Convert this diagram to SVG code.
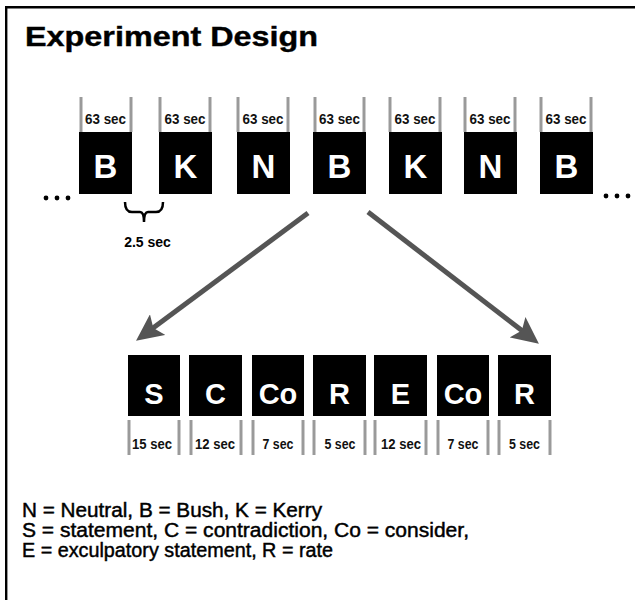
<svg xmlns="http://www.w3.org/2000/svg" width="635" height="600" viewBox="0 0 635 600">
<defs>
<style>
.box{fill:#000}
.big{font-family:"Liberation Sans",Arial,sans-serif;font-weight:bold;fill:#fff;text-anchor:middle}
.t1{font-size:33px}
.t2{font-size:29px}
.lab{font-family:"Liberation Sans",Arial,sans-serif;font-weight:bold;font-size:15px;fill:#111;text-anchor:middle}
.bar{stroke:#9a9a9a;stroke-width:3}
.leg{font-family:"Liberation Sans",Arial,sans-serif;font-size:20px;fill:#000;stroke:#000;stroke-width:0.45}
.arr{stroke:#555;stroke-width:5;fill:none;marker-end:url(#ah)}
</style>
<marker id="ah" markerUnits="userSpaceOnUse" markerWidth="28" markerHeight="26" refX="10" refY="12" orient="auto" viewBox="0 0 26 24">
<path d="M0,0 L25,12 L0,24 L5,12 z" fill="#555"/>
</marker>
</defs>
<rect width="635" height="600" fill="#fff"/>
<path d="M5,7.3 H635 M6.2,6 V600" stroke="#000" stroke-width="2.4" fill="none"/>
<text x="25" y="46" font-family="Liberation Sans, Arial, sans-serif" font-weight="bold" font-size="27" textLength="293" lengthAdjust="spacingAndGlyphs" stroke="#000" stroke-width="0.4">Experiment Design</text>

<g id="top-B1"><line class="bar" x1="81" y1="97" x2="81" y2="132"/><line class="bar" x1="131" y1="97" x2="131" y2="132"/><text class="lab" x="105.5" y="124" textLength="41" lengthAdjust="spacingAndGlyphs">63 sec</text><rect class="box" x="79" y="132" width="53" height="62"/><text class="big t1" x="105.5" y="178">B</text></g>
<g id="top-K1"><line class="bar" x1="160" y1="97" x2="160" y2="132"/><line class="bar" x1="210" y1="97" x2="210" y2="132"/><text class="lab" x="185" y="124" textLength="41" lengthAdjust="spacingAndGlyphs">63 sec</text><rect class="box" x="159" y="132" width="53" height="62"/><text class="big t1" x="185.5" y="178">K</text></g>
<g id="top-N1"><line class="bar" x1="238" y1="97" x2="238" y2="132"/><line class="bar" x1="288" y1="97" x2="288" y2="132"/><text class="lab" x="263" y="124" textLength="41" lengthAdjust="spacingAndGlyphs">63 sec</text><rect class="box" x="237" y="132" width="53" height="62"/><text class="big t1" x="263.5" y="178">N</text></g>
<g id="top-B2"><line class="bar" x1="315" y1="97" x2="315" y2="132"/><line class="bar" x1="364" y1="97" x2="364" y2="132"/><text class="lab" x="339.5" y="124" textLength="41" lengthAdjust="spacingAndGlyphs">63 sec</text><rect class="box" x="313" y="132" width="53" height="62"/><text class="big t1" x="339.5" y="178">B</text></g>
<g id="top-K2"><line class="bar" x1="390" y1="97" x2="390" y2="132"/><line class="bar" x1="440" y1="97" x2="440" y2="132"/><text class="lab" x="415" y="124" textLength="41" lengthAdjust="spacingAndGlyphs">63 sec</text><rect class="box" x="389" y="132" width="53" height="62"/><text class="big t1" x="415.5" y="178">K</text></g>
<g id="top-N2"><line class="bar" x1="465" y1="97" x2="465" y2="132"/><line class="bar" x1="515" y1="97" x2="515" y2="132"/><text class="lab" x="490" y="124" textLength="41" lengthAdjust="spacingAndGlyphs">63 sec</text><rect class="box" x="464" y="132" width="53" height="62"/><text class="big t1" x="490.5" y="178">N</text></g>
<g id="top-B3"><line class="bar" x1="541" y1="97" x2="541" y2="132"/><line class="bar" x1="591" y1="97" x2="591" y2="132"/><text class="lab" x="566" y="124" textLength="41" lengthAdjust="spacingAndGlyphs">63 sec</text><rect class="box" x="540" y="132" width="53" height="62"/><text class="big t1" x="566.5" y="178">B</text></g>

<g id="dots-left" fill="#000"><circle cx="46" cy="198" r="2.4"/><circle cx="57" cy="198" r="2.4"/><circle cx="68" cy="198" r="2.4"/></g>
<g id="dots-right" fill="#000"><circle cx="606" cy="196" r="2.4"/><circle cx="617" cy="196" r="2.4"/><circle cx="628" cy="196" r="2.4"/></g>

<g id="gap">
<path d="M125,202 Q125,212 132,212 H140 Q144,212 144,222 Q144,212 148,212 H156 Q163,212 163,202" stroke="#000" stroke-width="2.5" fill="none"/>
<text class="lab" x="147.5" y="247" style="fill:#000;font-size:14px">2.5 sec</text>
</g>

<g id="connectors">
<line class="arr" x1="308" y1="213" x2="149" y2="331.1"/>
<line class="arr" x1="368" y1="212" x2="526.1" y2="333.8"/>
</g>

<g id="bot-S"><rect class="box" x="128" y="355" width="52" height="61"/><text class="big t2" x="154" y="404">S</text><line class="bar" x1="129" y1="420" x2="129" y2="455"/><line class="bar" x1="179" y1="420" x2="179" y2="455"/><text class="lab" x="152" y="449" textLength="40" lengthAdjust="spacingAndGlyphs">15 sec</text></g>
<g id="bot-C"><rect class="box" x="189" y="355" width="53" height="61"/><text class="big t2" x="215.5" y="404">C</text><line class="bar" x1="191" y1="420" x2="191" y2="455"/><line class="bar" x1="241" y1="420" x2="241" y2="455"/><text class="lab" x="215" y="449" textLength="40" lengthAdjust="spacingAndGlyphs">12 sec</text></g>
<g id="bot-Co1"><rect class="box" x="252" y="355" width="52" height="61"/><text class="big t2" x="278" y="404">Co</text><line class="bar" x1="253" y1="420" x2="253" y2="455"/><line class="bar" x1="303" y1="420" x2="303" y2="455"/><text class="lab" x="278" y="449" textLength="31" lengthAdjust="spacingAndGlyphs">7 sec</text></g>
<g id="bot-R1"><rect class="box" x="313" y="355" width="53" height="61"/><text class="big t2" x="339.5" y="404">R</text><line class="bar" x1="314" y1="420" x2="314" y2="455"/><line class="bar" x1="365" y1="420" x2="365" y2="455"/><text class="lab" x="340" y="449" textLength="31" lengthAdjust="spacingAndGlyphs">5 sec</text></g>
<g id="bot-E"><rect class="box" x="374" y="355" width="53" height="61"/><text class="big t2" x="400.5" y="404">E</text><line class="bar" x1="375" y1="420" x2="375" y2="455"/><line class="bar" x1="426" y1="420" x2="426" y2="455"/><text class="lab" x="401" y="449" textLength="40" lengthAdjust="spacingAndGlyphs">12 sec</text></g>
<g id="bot-Co2"><rect class="box" x="437" y="355" width="52" height="61"/><text class="big t2" x="463" y="404">Co</text><line class="bar" x1="438" y1="420" x2="438" y2="455"/><line class="bar" x1="488" y1="420" x2="488" y2="455"/><text class="lab" x="463" y="449" textLength="31" lengthAdjust="spacingAndGlyphs">7 sec</text></g>
<g id="bot-R2"><rect class="box" x="498" y="355" width="53" height="61"/><text class="big t2" x="524.5" y="404">R</text><line class="bar" x1="499" y1="420" x2="499" y2="455"/><line class="bar" x1="550" y1="420" x2="550" y2="455"/><text class="lab" x="524.5" y="449" textLength="31" lengthAdjust="spacingAndGlyphs">5 sec</text></g>

<g id="legend">
<text class="leg" x="22" y="517" textLength="300" lengthAdjust="spacingAndGlyphs">N = Neutral, B = Bush, K = Kerry</text>
<text class="leg" x="22" y="537" textLength="447" lengthAdjust="spacingAndGlyphs">S = statement, C = contradiction, Co = consider,</text>
<text class="leg" x="22" y="557" textLength="311" lengthAdjust="spacingAndGlyphs">E = exculpatory statement, R = rate</text>
</g>
</svg>
